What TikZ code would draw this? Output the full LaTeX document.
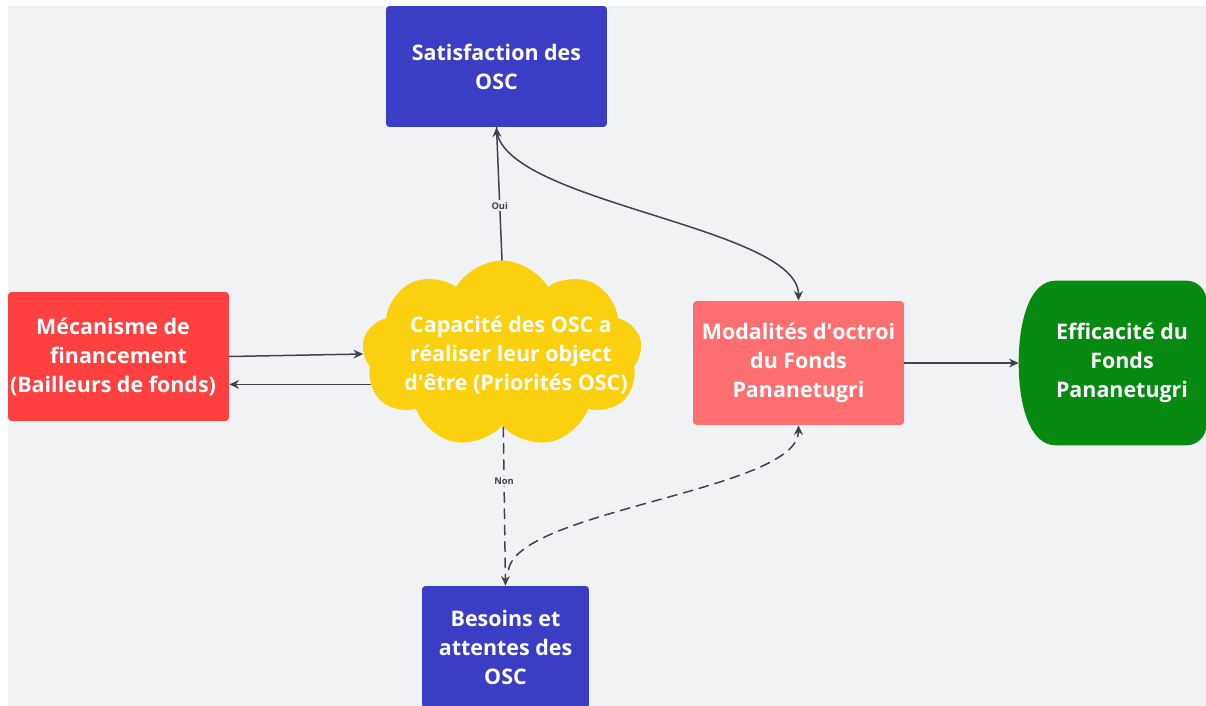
\documentclass[tikz,border=0pt]{standalone}
\usepackage{fontspec}
\setmainfont{Open Sans}
\usetikzlibrary{shapes.symbols,arrows.meta}
\definecolor{fond}{HTML}{F1F2F4}
\definecolor{bleu}{HTML}{3B3EC5}
\definecolor{rouge}{HTML}{FF4040}
\definecolor{saumon}{HTML}{FF6F6F}
\definecolor{jaune}{HTML}{FBD00F}
\definecolor{vert}{HTML}{068A12}
\definecolor{trait}{HTML}{3F424E}
\begin{document}
\begin{tikzpicture}[x=0.02cm,y=-0.02cm,line join=round,line cap=round,>={Stealth[length=5.5pt,width=5pt]},
	texte/.style={align=center,text=white,inner sep=1pt,font=\fontsize{12.2}{16.5}\selectfont\bfseries},
	boite/.style={texte,rectangle,rounded corners=2pt},
	fleche/.style={->,draw=trait,line width=0.85pt},
	tirets/.style={fleche,dash pattern=on 5.5pt off 3.8pt},
	etiq/.style={fill=fond,inner sep=1pt,text=trait,font=\fontsize{5.3}{6}\selectfont\bfseries}]
	\useasboundingbox (0,0) rectangle (1206,706);
	\fill[white] (0,0) rectangle (1206,706);
	\fill[fond] (8,6) rectangle (1206,706);
	% boites
	\node[boite,fill=bleu,minimum width=4.42cm,minimum height=2.42cm] (sat) at (496.5,66.5) {Satisfaction des\\OSC};
	\node[boite,fill=rouge,minimum width=4.42cm,minimum height=2.58cm] (mec) at (118.5,356.5) {Mécanisme de\hspace*{0.22cm}\\financement\hspace*{0.22cm}\\(Bailleurs de fonds)\hspace*{0.22cm}};
	\node[boite,fill=saumon,minimum width=4.22cm,minimum height=2.48cm] (mod) at (798.5,363) {Modalités d\textquotesingle octroi\\du Fonds\\Pananetugri};
	\node[boite,fill=bleu,minimum width=3.34cm,minimum height=2.44cm] (bes) at (505.5,647) {Besoins et\\attentes des\\OSC};
	\node[cloud,cloud puffs=9,cloud puff arc=120,cloud ignores aspect,shape border rotate=20,fill=jaune,minimum width=5.6cm,minimum height=3.74cm,inner sep=0pt] (cap) at (502,354) {};
	\node[texte] (captxt) at (511,355) {Capacité des OSC a\\réaliser leur object\hspace*{0.45cm}\\\hspace*{0.2cm}d\textquotesingle être (Priorités OSC)};
	% forme verte
	\node[minimum width=3.74cm,minimum height=3.28cm,inner sep=0pt] (eff) at (1112.5,363) {};
	\fill[vert] ([xshift=0.74cm]eff.north west) -- ([xshift=-0.4cm]eff.north east) arc[start angle=90,end angle=0,radius=0.4cm]
		-- ([yshift=0.4cm]eff.south east) arc[start angle=0,end angle=-90,radius=0.4cm]
		-- ([xshift=0.74cm]eff.south west) .. controls ([xshift=0.22cm]eff.south west) and ([yshift=-0.84cm]eff.west) .. (eff.west)
		.. controls ([yshift=0.84cm]eff.west) and ([xshift=0.22cm]eff.north west) .. cycle;
	\node[texte] (efftxt) at ([xshift=0.19cm]eff.center) {Efficacité du\\Fonds\\Pananetugri};
	% fleches
	\draw[fleche] (mec.east) -- (cap.west);
	\draw[fleche] (cap.193) -- (cap.193 -| mec.east);
	\draw[fleche] (cap.90) -- node[etiq,pos=0.41]{Oui} (sat.south);
	\draw[fleche] (sat.south) .. controls +(0,75) and +(0,-75) .. (mod.north);
	\draw[tirets] (cap.-89) -- node[etiq,pos=0.34]{Non} (bes.north);
	\draw[tirets] ([xshift=0.06cm,yshift=0.32cm]bes.north) .. controls +(11,-60) and +(0,65) .. (mod.south);
	\draw[fleche] (mod.east) -- (eff.west);
\end{tikzpicture}
\end{document}
